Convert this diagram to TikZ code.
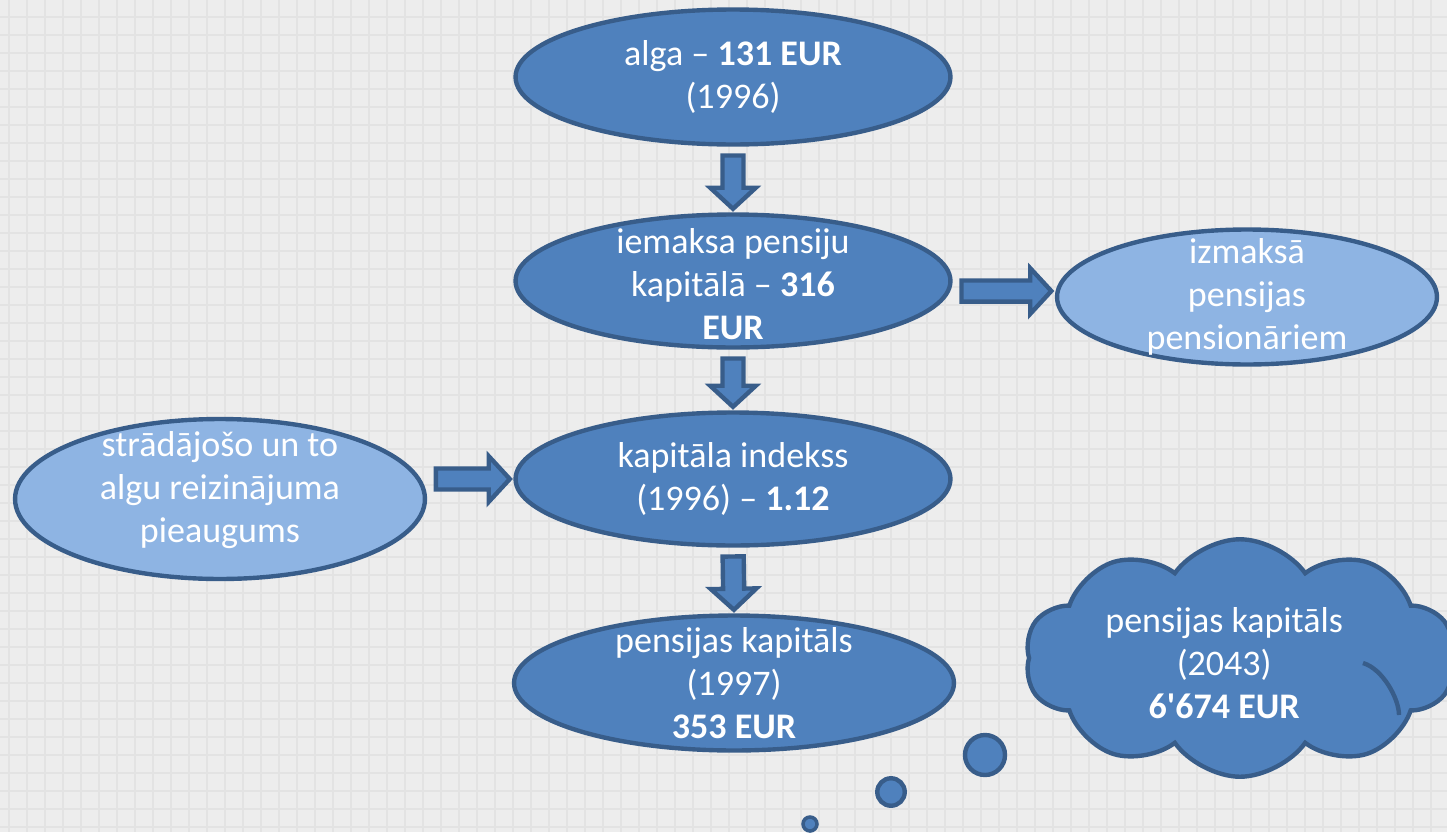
\documentclass[tikz,border=0pt]{standalone}
\usepackage{fontspec}
\setmainfont{Carlito}
\usetikzlibrary{shapes.geometric,shapes.symbols,calc}

\definecolor{nodefill}{HTML}{4F81BD}
\definecolor{nodeedge}{HTML}{385D8A}
\definecolor{lightfill}{HTML}{8EB4E3}
\definecolor{paper}{HTML}{EDEDED}
\definecolor{gridcol}{HTML}{E3E3E3}

\begin{document}
\begin{tikzpicture}[x=0.02cm,y=-0.02cm,font=\fontsize{20.5}{24.5}\selectfont]
   \useasboundingbox (0,0) rectangle (1447,832);
   \fill[paper] (0,0) rectangle (1447,832);
   \foreach \gx in {9,27,...,1447} \draw[gridcol,line width=1.1pt] (\gx,0) -- (\gx,832);
   \foreach \gy in {17,35,...,832} \draw[gridcol,line width=1.1pt] (0,\gy) -- (1447,\gy);

   \tikzstyle{main}=[ellipse, draw=nodeedge, line width=2.5pt, fill=nodefill, inner sep=0pt, minimum width=8.7cm, minimum height=2.7cm]
   \tikzstyle{side}=[main, fill=lightfill]
   \tikzstyle{txt}=[text=white, align=center, inner sep=0pt]
   \tikzstyle{bubble}=[circle, draw=nodeedge, line width=2.5pt, fill=nodefill, inner sep=0pt]
   \tikzstyle{blockarrow}=[draw=nodeedge, fill=nodefill, line width=2.5pt, line join=miter,
      to path={let \p1=(\tikztostart), \p2=(\tikztotarget),
         \p3=($(\p1)!5pt!(\p2)$), \p4=($(\p2)!2pt!(\p1)$), \p5=($(\p4)!12pt!(\p3)$) in
         ($(\p3)!6pt!90:(\p4)$) -- ($(\p5)!6pt!90:(\p4)$) -- ($(\p5)!13pt!90:(\p4)$) -- (\p4)
         -- ($(\p5)!13pt!-90:(\p4)$) -- ($(\p5)!6pt!-90:(\p4)$) -- ($(\p3)!6pt!-90:(\p4)$) -- cycle}]

   \node[main, label={[txt]center:alga – \textbf{131 EUR}\\(1996)}] (alga) at (733,77) {};
   \node[main, minimum height=2.66cm, label={[txt, yshift=-2pt]center:iemaksa pensiju\\kapitālā – \textbf{316}\\\textbf{EUR}}] (iemaksa) at (733,281) {};
   \node[main, minimum height=2.66cm, label={[txt]center:kapitāla indekss\\(1996) – \textbf{1.12}}] (indekss) at (733,479) {};
   \node[main, minimum width=8.8cm, label={[txt]center:pensijas kapitāls\\(1997)\\\textbf{353 EUR}}] (kapitals) at (734,683) {};
   \node[side, minimum width=7.6cm, label={[txt]center:izmaksā\\pensijas\\pensionāriem}] (izmaksa) at (1247,297) {};
   \node[side, minimum width=8.2cm, minimum height=3.2cm, label={[txt, yshift=5pt]center:strādājošo un to\\algu reizinājuma\\pieaugums}] (pieaugums) at (220,499) {};

   \path[blockarrow] (alga.south) to (iemaksa.north);
   \path[blockarrow] (iemaksa.south) to (indekss.north);
   \path[blockarrow] (indekss.south) to (kapitals.north);
   \path[blockarrow] ([yshift=-5.7pt]iemaksa.east) to ([yshift=3.4pt]izmaksa.west);
   \path[blockarrow] (pieaugums.east |- indekss.west) to (indekss.west);

   % domu makonis
   \node[cloud, cloud puffs=10, cloud puff arc=110, draw=nodeedge, line width=2.5pt, fill=nodefill,
         minimum width=8.6cm, minimum height=4.75cm, label={[txt, xshift=-9pt, yshift=-3pt]center:pensijas kapitāls\\(2043)\\\textbf{6\textquotesingle674 EUR}}] (kapitals2043) at (1240,658) {};
   \draw[nodeedge, line width=2.5pt] ([shift={(123,5)}]kapitals2043.center) .. controls +(20,6) and +(0,-16) .. +(36,52);
   \node[bubble, minimum size=0.8cm] (b1) at (985,755) {};
   \node[bubble, minimum size=0.55cm] (b2) at (891,792) {};
   \node[bubble, minimum size=0.28cm, line width=2pt] (b3) at (810,824) {};
\end{tikzpicture}
\end{document}
